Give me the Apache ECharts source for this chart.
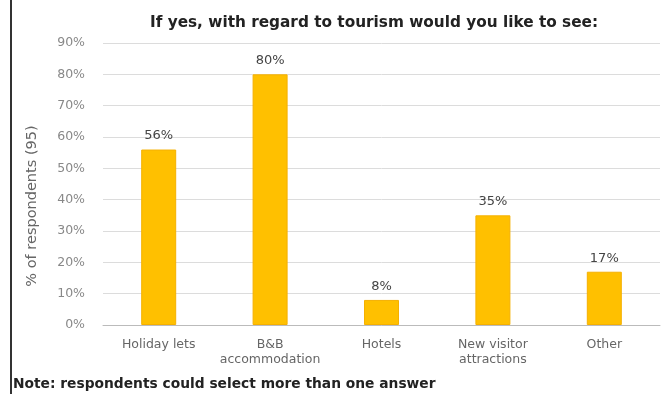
<!DOCTYPE html>
<html>
<head>
<meta charset="utf-8">
<script src="https://cdn.jsdelivr.net/npm/echarts@6/dist/echarts.min.js"></script>
<style>
  html, body { margin: 0; padding: 0; background: #fff; }
  #chart { width: 665px; height: 394px; }
</style>
</head>
<body>
<div id="chart"></div>
<script>
// Survey answers: preferred types of tourism development
const categories = ['Holiday lets', 'B&B\naccommodation', 'Hotels', 'New visitor\nattractions', 'Other'];
const shares = [56, 80, 8, 35, 17];
const yTicks = [0, 10, 20, 30, 40, 50, 60, 70, 80, 90];

const chart = echarts.init(document.getElementById('chart'));
const font = '"DejaVu Sans", sans-serif';

chart.setOption({
  backgroundColor: '#ffffff',
  animation: false,
  title: {
    text: 'If yes, with regard to tourism would you like to see:',
    left: 369,
    textAlign: 'center',
    top: 11,
    textStyle: { fontFamily: font, fontSize: 15.3, fontWeight: 'bold', color: '#222' }
  },
  graphic: [
    {
      type: 'rect',
      shape: { x: 10, y: 0, width: 2, height: 394 },
      style: { fill: '#333' }
    },
    {
      type: 'text',
      left: 13,
      top: 377,
      style: {
        text: 'Note: respondents could select more than one answer',
        font: 'bold 13.8px ' + font,
        fill: '#222'
      }
    },
    {
      type: 'text',
      x: 32,
      y: 206,
      rotation: Math.PI / 2,
      style: {
        text: '% of respondents (95)',
        font: '14.5px ' + font,
        fill: '#666',
        align: 'center',
        verticalAlign: 'middle'
      }
    }
  ],
  grid: { left: 103, right: 5, top: 43, bottom: 69 },
  xAxis: {
    type: 'category',
    data: categories,
    axisLine: { lineStyle: { color: '#bbb' } },
    axisTick: { show: false },
    axisLabel: {
      fontFamily: font, fontSize: 12.5, color: '#666', margin: 12, lineHeight: 15,
      interval: 0
    }
  },
  yAxis: {
    type: 'value',
    min: yTicks[0],
    max: yTicks[yTicks.length - 1],
    interval: 10,
    axisLine: { show: false },
    axisTick: { show: false },
    axisLabel: {
      fontFamily: font, fontSize: 12.5, color: '#888', margin: 18,
      formatter: v => v + '%'
    },
    splitLine: { lineStyle: { color: '#dcdcdc', width: 1 } }
  },
  series: [{
    type: 'bar',
    data: shares,
    barWidth: 35,
    itemStyle: { color: '#FFC000', borderColor: '#F5B000', borderWidth: 1 },
    label: {
      show: true,
      position: 'top',
      distance: 7,
      formatter: p => p.value + '%',
      fontFamily: font, fontSize: 13, color: '#444'
    }
  }]
});
</script>
</body>
</html>
